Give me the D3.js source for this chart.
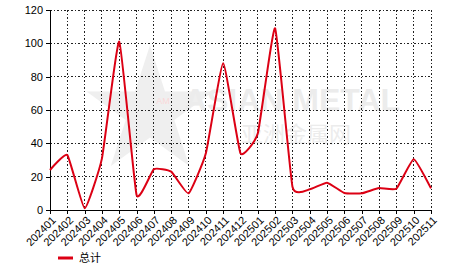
<!DOCTYPE html>
<html><head><meta charset="utf-8">
<script src="https://cdn.jsdelivr.net/npm/d3@7"></script>
<style>body{margin:0;background:#fff}svg{display:block}</style>
</head><body>
<svg id="c" width="466" height="272"></svg>
<script>
const months = ["202401","202402","202403","202404","202405","202406","202407","202408","202409","202410","202411","202412","202501","202502","202503","202504","202505","202506","202507","202508","202509","202510","202511"];
const totals = [24,33,1,31,101,9,24.5,23,10,34,88,34,46,109,14,12.4,16.4,10.2,10,13.2,12.8,30.5,13];
const yTicks = [0,20,40,60,80,100,120];
const seriesName = "总计";

const svg = d3.select("#c");
const L=50,R=431,T=10,B=210;
const x = d3.scalePoint().domain(months).range([L,R]);
const y = d3.scaleLinear().domain([0,120]).range([B,T]);
const font = "Liberation Sans, Arial, sans-serif";

// watermark
const wm = svg.append("g").attr("opacity",0.4);
const star = d3.symbol().type(d3.symbolStar).size(5000)();
wm.append("path").attr("d",star).attr("transform","translate(150,112)").attr("fill","#d8d8d8");
wm.append("text").attr("x",163).attr("y",104).attr("text-anchor","middle").attr("font-family",font).attr("font-size",9).attr("fill","#f4a0a0").text("AM");
wm.append("text").attr("x",292).attr("y",111).attr("text-anchor","middle").attr("font-family",font).attr("font-weight","bold").attr("font-size",32).attr("fill","#d0d0d0").text("ASIAN METAL");
wm.append("text").attr("x",296).attr("y",142).attr("text-anchor","middle").attr("font-family","Noto Sans CJK SC").attr("font-size",22).attr("fill","#d0d0d0").text("亚洲金属网");

// grid
const g = svg.append("g");
g.selectAll(".vg").data(months).join("line")
 .attr("x1",d=>x(d)).attr("x2",d=>x(d)).attr("y1",T).attr("y2",B)
 .attr("stroke","#222").attr("stroke-width",1).attr("stroke-dasharray","1.5,2").attr("shape-rendering","crispEdges");
g.selectAll(".hg").data(yTicks).join("line")
 .attr("x1",L).attr("x2",R).attr("y1",d=>y(d)).attr("y2",d=>y(d))
 .attr("stroke","#222").attr("stroke-width",1).attr("stroke-dasharray","1.5,2").attr("shape-rendering","crispEdges");

// axes
const ya = svg.append("g").attr("transform",`translate(${L},0)`)
 .call(d3.axisLeft(y).tickValues(yTicks).tickSize(4).tickPadding(3));
ya.selectAll("text").attr("font-family",font).attr("font-size",11).attr("fill","#000");
ya.selectAll("line,path").attr("stroke","#000").attr("shape-rendering","crispEdges");

const xa = svg.append("g").attr("transform",`translate(0,${B})`)
 .call(d3.axisBottom(x).tickSize(4).tickPadding(2));
xa.selectAll("text").attr("font-family",font).attr("font-size",11).attr("fill","#000")
 .attr("text-anchor","end").attr("dx","-0.3em").attr("dy","0.55em").attr("transform","rotate(-45)");
xa.selectAll("line,path").attr("stroke","#000").attr("shape-rendering","crispEdges");
xa.select("path").attr("d",`M${L},0.5H${R}`);

// line
const line = d3.line().x((d,i)=>x(months[i])).y(d=>y(d)).curve(d3.curveCardinal.tension(0.6));
svg.append("path").datum(totals).attr("d",line).attr("fill","none").attr("stroke","#dc0014").attr("stroke-width",2);

// legend
svg.append("line").attr("x1",58).attr("x2",73).attr("y1",258).attr("y2",258).attr("stroke","#dc0014").attr("stroke-width",3);
svg.append("text").attr("x",79).attr("y",262).attr("font-family","Noto Sans CJK SC, sans-serif").attr("font-size",11).attr("fill","#000").text(seriesName);
</script>
</body></html>
